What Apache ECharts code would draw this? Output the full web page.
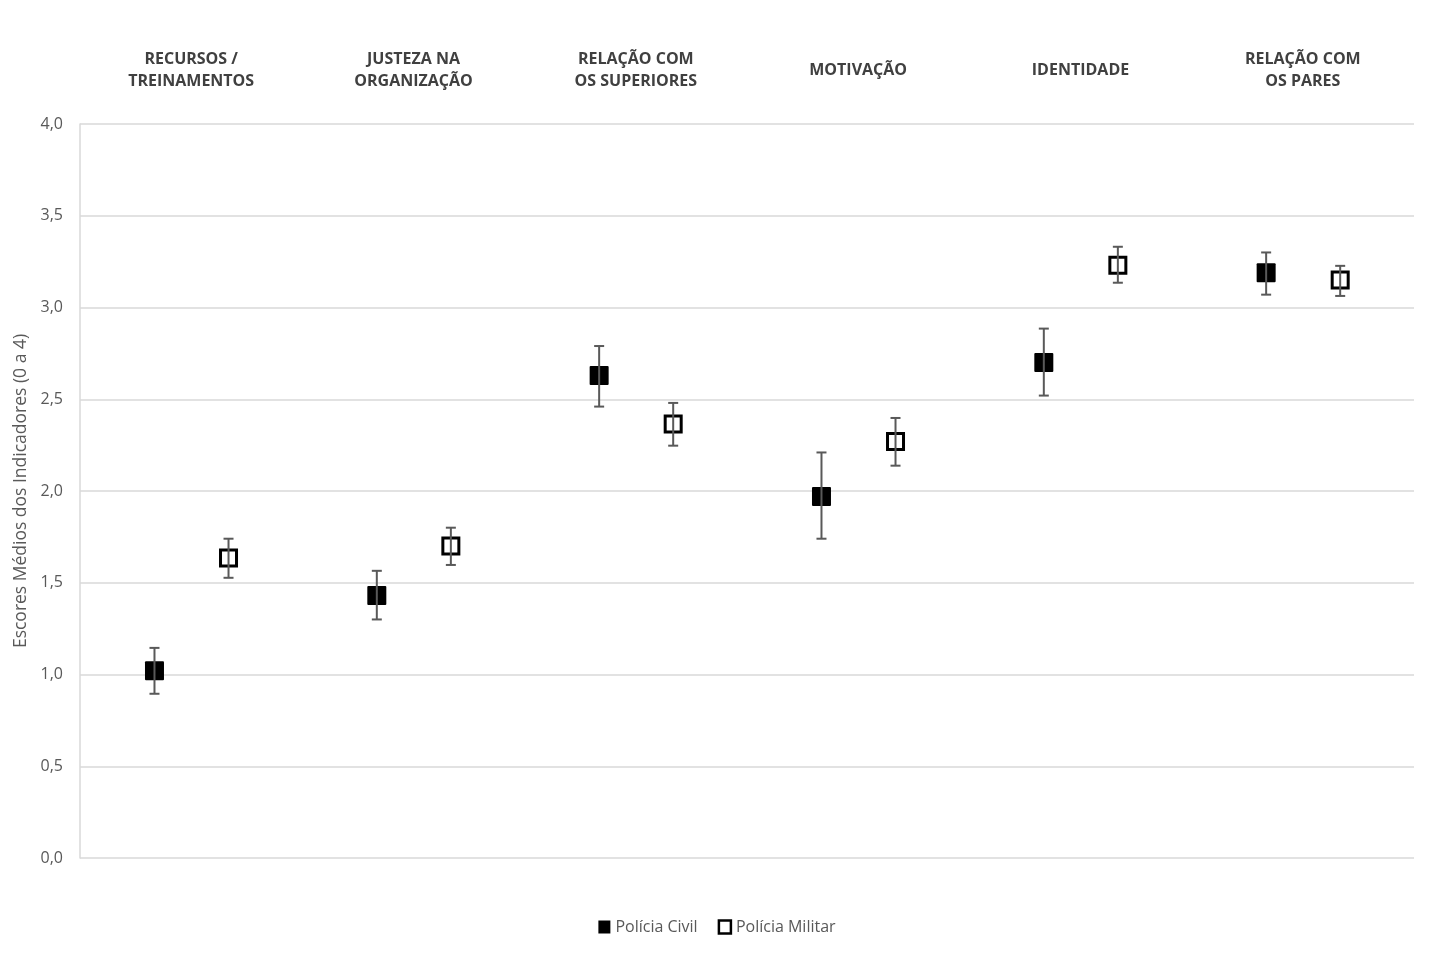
<!DOCTYPE html>
<html lang="pt">
<head>
<meta charset="UTF-8">
<title>Escores Médios dos Indicadores</title>
<script src="https://cdn.jsdelivr.net/npm/echarts@6/dist/echarts.min.js"></script>
<style>
  * { margin: 0; padding: 0; }
  body { background: #fff; }
  #chart { width: 1434px; height: 957px; }
</style>
</head>
<body>
<div id="chart"></div>
<script>
// dados (média e limites do erro)
const categories = [
  'RECURSOS /\nTREINAMENTOS',
  'JUSTEZA NA\nORGANIZAÇÃO',
  'RELAÇÃO COM\nOS SUPERIORES',
  'MOTIVAÇÃO',
  'IDENTIDADE',
  'RELAÇÃO COM\nOS PARES'
];
const civilMean = [1.02, 1.43, 2.63, 1.97, 2.70, 3.19];
const civilLow = [0.895, 1.30, 2.46, 1.74, 2.52, 3.07];
const civilHigh = [1.145, 1.565, 2.79, 2.21, 2.885, 3.30];
const militarMean = [1.635, 1.70, 2.365, 2.27, 3.23, 3.15];
const militarLow = [1.527, 1.597, 2.247, 2.138, 3.135, 3.063];
const militarHigh = [1.74, 1.80, 2.48, 2.398, 3.331, 3.227];
const yTicks = { min: 0, max: 4, interval: 0.5 };

const labelFont = '"Open Sans", "Noto Sans", sans-serif';

function toRows(mean, low, high) {
  return mean.map((v, i) => [i, v, high[i], low[i]]);
}

// desenha quadrado + barra de erro, deslocado dentro da categoria
function makeRender(offset, hollow) {
  return function (params, api) {
    const i = api.value(0);
    const band = api.size([1, 0])[0];
    const c = api.coord([i, api.value(1)]);
    const top = api.coord([i, api.value(2)])[1];
    const bottom = api.coord([i, api.value(3)])[1];
    const x = c[0] + offset * band;
    const y = c[1];
    const cap = 5;
    const barStyle = { stroke: '#595959', lineWidth: 2 };
    const square = hollow
      ? { type: 'rect', shape: { x: x - 8, y: y - 8, width: 16, height: 16 },
          style: { fill: 'none', stroke: '#000', lineWidth: 3 } }
      : { type: 'rect', shape: { x: x - 9.5, y: y - 9.5, width: 19, height: 19, r: 1 },
          style: { fill: '#000' } };
    return {
      type: 'group',
      children: [
        square,
        { type: 'line', shape: { x1: x, y1: top, x2: x, y2: bottom }, style: barStyle },
        { type: 'line', shape: { x1: x - cap, y1: top, x2: x + cap, y2: top }, style: barStyle },
        { type: 'line', shape: { x1: x - cap, y1: bottom, x2: x + cap, y2: bottom }, style: barStyle }
      ]
    };
  };
}

const chart = echarts.init(document.getElementById('chart'));

const option = {
  backgroundColor: '#fff',
  animation: false,
  grid: { left: 80, right: 20, top: 124, bottom: 99 },
  legend: {
    bottom: 17,
    left: 'center',
    itemWidth: 12,
    itemHeight: 13,
    itemGap: 20,
    textStyle: { fontFamily: labelFont, fontSize: 16, color: '#595959' },
    data: [
      { name: 'Polícia Civil', icon: 'rect', itemStyle: { color: '#000' } },
      { name: 'Polícia Militar', icon: 'rect',
        itemStyle: { color: '#fff', borderColor: '#000', borderWidth: 2.5 } }
    ]
  },
  xAxis: {
    type: 'category',
    position: 'top',
    data: categories,
    axisLine: { show: false },
    axisTick: { show: false },
    axisLabel: {
      interval: 0,
      margin: 54,
      verticalAlign: 'middle',
      fontFamily: labelFont,
      fontSize: 16,
      fontWeight: 'bold',
      lineHeight: 22,
      color: '#404040'
    },
    splitLine: { show: false }
  },
  yAxis: {
    type: 'value',
    min: yTicks.min,
    max: yTicks.max,
    interval: yTicks.interval,
    name: 'Escores Médios dos Indicadores (0 a 4)',
    nameLocation: 'middle',
    nameGap: 50,
    nameTextStyle: { fontFamily: labelFont, fontSize: 17.5, color: '#595959' },
    axisLine: { show: true, lineStyle: { color: '#d9d9d9', width: 1.5 } },
    axisTick: { show: false },
    axisLabel: {
      margin: 17,
      fontFamily: labelFont,
      fontSize: 16,
      color: '#595959',
      formatter: v => v.toFixed(1).replace('.', ',')
    },
    splitLine: { lineStyle: { color: '#d9d9d9', width: 1.5 } }
  },
  series: [
    {
      name: 'Polícia Civil',
      type: 'custom',
      renderItem: makeRender(-0.165, false),
      encode: { x: 0, y: [1, 2, 3] },
      data: toRows(civilMean, civilLow, civilHigh),
      itemStyle: { color: '#000' }
    },
    {
      name: 'Polícia Militar',
      type: 'custom',
      renderItem: makeRender(0.168, true),
      encode: { x: 0, y: [1, 2, 3] },
      data: toRows(militarMean, militarLow, militarHigh),
      itemStyle: { color: '#fff', borderColor: '#000' }
    }
  ]
};

chart.setOption(option);
</script>
</body>
</html>
